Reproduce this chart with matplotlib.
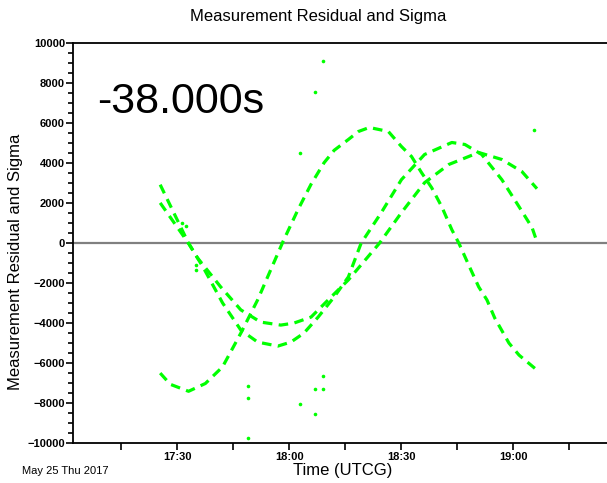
import pandas as pd
import matplotlib
matplotlib.use("Agg")
import matplotlib.pyplot as plt
import matplotlib.dates as mdates
from matplotlib.ticker import MultipleLocator

plt.rcParams['font.family'] = ['Liberation Sans', 'DejaVu Sans']

base = pd.Timestamp("2017-05-25 17:00:00")

# residual curves: minutes after 17:00, value
a_min = [25.4, 28.1, 33.0, 37.5, 42.1, 47.0, 51.5, 58.3, 62.3, 65.8, 69.3, 72.0, 75.8,
         78.5, 81.4, 86.5, 90.0, 92.7, 95.4, 98.1, 100.8, 103.5, 105.4, 108.0, 110.7,
         112.9, 115.0, 118.8, 121.5, 126.3]
a_val = [-6490, -7050, -7400, -7010, -6180, -4490, -2830, 90, 1680, 2950, 4030, 4650, 5190,
         5590, 5790, 5590, 4840, 4340, 3530, 2780, 1830, 680, 0, -1080, -2180,
         -2830, -3740, -4990, -5590, -6340]

b_min = [25.4, 33.0, 37.0, 42.1, 47.0, 51.5, 56.9, 60.4, 63.9, 67.7, 72.0, 75.8, 79.2,
         84.6, 90.0, 96.2, 103.5, 107.0, 111.5, 116.9, 121.5, 125.0, 126.3]
b_val = [2930, 0, -1230, -2980, -4340, -4940, -5140, -4940, -4490, -3690, -2680, -1680, 0,
         1530, 3180, 4440, 5040, 4940, 4440, 3180, 1830, 780, 75]

c_min = [25.4, 29.5, 33.0, 35.4, 41.6, 47.0, 52.3, 57.7, 61.2, 65.8, 71.2, 75.8, 84.1,
         90.0, 96.2, 102.7, 110.7, 116.9, 122.3, 126.3]
c_val = [2020, 930, 0, -730, -2180, -3330, -3940, -4090, -3990, -3690, -2680, -1830, 0,
         1530, 3030, 3940, 4540, 4190, 3580, 2730]

# isolated points
p_min = [31.3, 32.4, 35.0, 35.0, 48.9, 48.9, 48.9, 62.9, 62.9, 66.9, 66.9, 66.9,
         69.1, 69.1, 69.1, 125.6]
p_val = [1010, 840, -1080, -1330, -7140, -7740, -9760, 4520, -8050, 7580, -7290, -8550,
         9110, -6640, -7290, 5640]

x_ticks = ["17:30", "18:00", "18:30", "19:00"]


def to_time(mins):
    return base + pd.to_timedelta(mins, unit="m")


fig = plt.figure(figsize=(6.07, 4.83), dpi=100)
ax = fig.add_axes([0.1208, 0.0822, 0.8887, 0.8282])

green = "#00ff00"
ax.axhline(0, color="#808080", lw=1.6, zorder=1)
for m, v in [(a_min, a_val), (b_min, b_val), (c_min, c_val)]:
    ax.plot(to_time(m), v, color=green, lw=2.3, linestyle=(0, (3, 2)), zorder=2)
ax.plot(to_time(p_min), p_val, "o", color=green, ms=2.6, mew=0, zorder=2)

ax.set_xlim(to_time(2.14), to_time(146.6))
ax.set_ylim(-10000, 10000)

ax.xaxis.set_major_locator(mdates.MinuteLocator(byminute=[0, 15, 30, 45]))
ax.xaxis.set_major_formatter(mdates.DateFormatter("%H:%M"))
ticks = ax.get_xticks()
labels = []
for t in ticks:
    s = mdates.num2date(t).strftime("%H:%M")
    labels.append(s if s in x_ticks else "")
ax.set_xticks(ticks)
ax.set_xticklabels(labels)
ax.set_xlim(to_time(2.14), to_time(146.6))

ax.yaxis.set_major_locator(MultipleLocator(2000))
ax.yaxis.set_minor_locator(MultipleLocator(500))

ax.tick_params(axis="both", which="major", direction="out", length=5, width=1.2,
               labelsize=8, pad=1)
ax.tick_params(axis="y", which="minor", direction="out", length=3.5, width=1.2)
for lab in ax.get_xticklabels() + ax.get_yticklabels():
    lab.set_fontweight("bold")

for s in ["left", "bottom", "top"]:
    ax.spines[s].set_linewidth(1.3)
    ax.spines[s].set_color("black")
ax.spines["right"].set_visible(False)

ax.set_xlabel("Time (UTCG)", fontsize=12, labelpad=1)
fig.text(0.026, 0.457, "Measurement Residual and Sigma", rotation=90, fontsize=12,
         ha="center", va="center")
fig.text(0.525, 0.965, "Measurement Residual and Sigma", fontsize=12, ha="center",
         va="center")
fig.text(0.036, 0.025, "May 25 Thu 2017", fontsize=8, ha="left", va="center")

ax.text(0.044, 0.8246, "-38.000s", transform=ax.transAxes, fontsize=31,
        ha="left", va="baseline")

fig.savefig("out.png", dpi=100)
